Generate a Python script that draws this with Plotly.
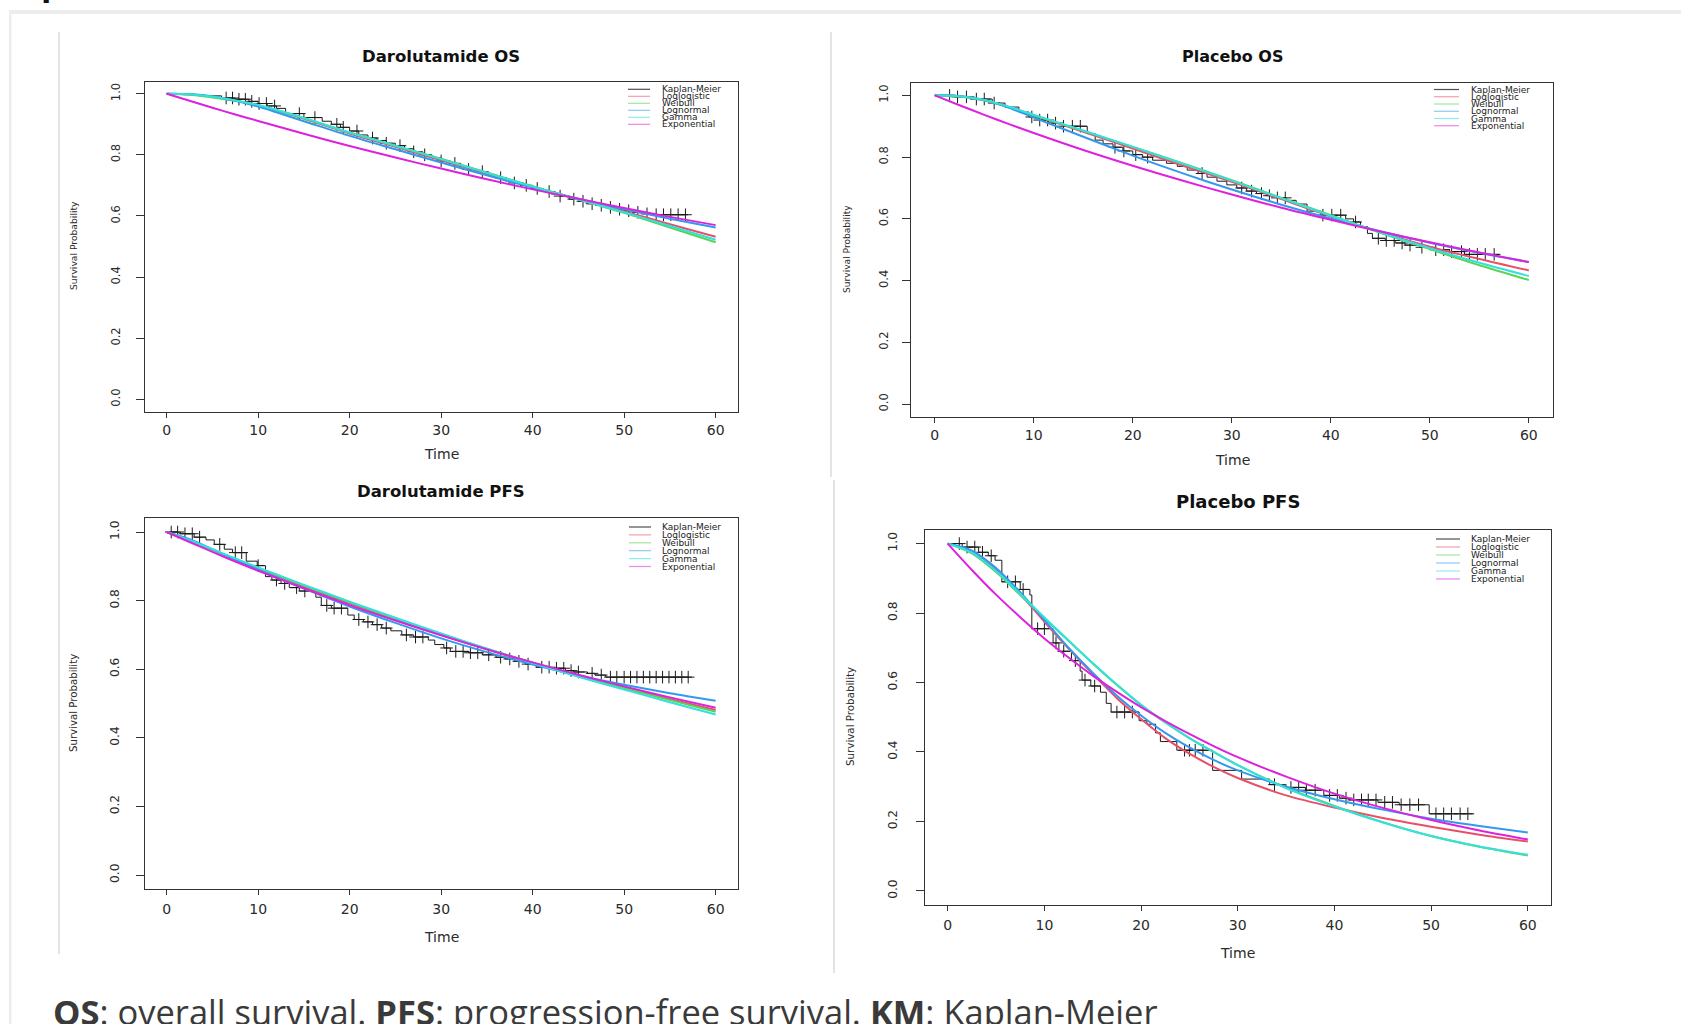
import numpy as np
import plotly.graph_objects as go

W, H = 1681, 1024

# ---------------- data ----------------
TITLES = ["Darolutamide OS", "Placebo OS", "Darolutamide PFS", "Placebo PFS"]
MODELS = ["Kaplan-Meier", "Loglogistic", "Weibull", "Lognormal", "Gamma", "Exponential"]
X_TICKS = [0, 10, 20, 30, 40, 50, 60]
Y_TICKS = [0.0, 0.2, 0.4, 0.6, 0.8, 1.0]
Y_TICKTEXT = ["0.0", "0.2", "0.4", "0.6", "0.8", "1.0"]

T_FIT = [0, 2.5, 5, 7.5, 10, 15, 20, 25, 30, 35, 40, 45, 50, 55, 60]
T_FIT_P4 = [0, 2.5, 5, 7.5, 10, 12.5, 15, 17.5, 20, 22.5, 25, 27.5, 30, 35, 40, 45, 50, 55, 60]

# Darolutamide OS
loglog_p1 = [1.0, 0.998, 0.990, 0.977, 0.962, 0.918, 0.870, 0.826, 0.782, 0.738, 0.695, 0.655, 0.615, 0.573, 0.532]
weib_p1 = [1.0, 0.997, 0.988, 0.977, 0.962, 0.920, 0.873, 0.830, 0.787, 0.742, 0.697, 0.654, 0.610, 0.562, 0.514]
lognorm_p1 = [1.0, 0.999, 0.992, 0.977, 0.958, 0.910, 0.862, 0.818, 0.775, 0.733, 0.693, 0.656, 0.622, 0.591, 0.562]
gamma_p1 = [1.0, 0.998, 0.990, 0.978, 0.963, 0.921, 0.873, 0.830, 0.786, 0.741, 0.696, 0.654, 0.612, 0.567, 0.522]
expo_p1 = [1.0, 0.977, 0.954, 0.932, 0.911, 0.869, 0.829, 0.791, 0.755, 0.720, 0.687, 0.656, 0.626, 0.597, 0.570]
km_t_p1 = [0, 2, 4, 6, 7.5, 9, 10, 11, 12, 13, 15, 17, 18, 19, 20, 21, 22, 23, 24, 25, 26, 27, 28, 29, 30,
           31, 32, 33, 34, 35, 36, 37, 38, 39, 40, 41, 42, 43, 44, 45, 46, 47, 48, 49, 50, 51, 52, 53, 57]
km_s_p1 = [1.0, 0.997, 0.993, 0.986, 0.982, 0.975, 0.968, 0.960, 0.952, 0.935, 0.922, 0.910, 0.900, 0.890, 0.878,
           0.865, 0.855, 0.847, 0.838, 0.830, 0.820, 0.810, 0.800, 0.790, 0.780, 0.772, 0.762, 0.752, 0.745, 0.735,
           0.725, 0.715, 0.708, 0.700, 0.690, 0.680, 0.672, 0.665, 0.655, 0.648, 0.640, 0.635, 0.628, 0.622, 0.617,
           0.612, 0.607, 0.604, 0.604]
cens_p1 = [6.5, 7.2, 7.9, 8.6, 9.3, 10.1, 10.9, 11.8, 14.5, 16.2, 18.6, 19.3, 20.8, 22.5, 24, 25.5, 27, 28.2, 30,
           31.5, 33, 34.5, 36.5, 38, 39.3, 40.5, 41.8, 43, 44.5, 45.5, 46.5, 47.5, 48.5, 49.5, 50.5, 51.5, 52.5,
           53.5, 54.3, 55.1, 55.9, 56.7]

# Placebo OS
loglog_p2 = [1.0, 0.997, 0.984, 0.962, 0.935, 0.882, 0.828, 0.773, 0.720, 0.664, 0.608, 0.557, 0.510, 0.470, 0.433]
weib_p2 = [1.0, 0.996, 0.983, 0.962, 0.935, 0.885, 0.833, 0.780, 0.725, 0.668, 0.612, 0.555, 0.502, 0.450, 0.402]
lognorm_p2 = [1.0, 0.998, 0.985, 0.960, 0.928, 0.866, 0.805, 0.748, 0.695, 0.646, 0.601, 0.560, 0.523, 0.490, 0.460]
gamma_p2 = [1.0, 0.997, 0.985, 0.963, 0.937, 0.886, 0.833, 0.779, 0.724, 0.667, 0.610, 0.556, 0.505, 0.458, 0.415]
expo_p2 = [1.0, 0.968, 0.937, 0.907, 0.878, 0.823, 0.772, 0.724, 0.679, 0.636, 0.597, 0.559, 0.524, 0.491, 0.460]
km_t_p2 = [0, 2, 4, 5.8, 7.1, 8.5, 9.5, 10.5, 11.5, 13, 15.4, 16.2, 17, 18, 19, 20, 21, 22, 23.4, 24.5, 25.5, 26.6,
           27.5, 28.5, 29.5, 30.5, 31.5, 32.5, 33.5, 34.5, 35.5, 36.5, 37.6, 39, 41.5, 42.3, 43, 43.7, 44.2, 45.5,
           46.5, 47.5, 49, 50.5, 52, 53.5, 57]
km_s_p2 = [1.0, 0.995, 0.988, 0.975, 0.962, 0.946, 0.930, 0.920, 0.910, 0.900, 0.876, 0.855, 0.843, 0.832, 0.820,
           0.808, 0.800, 0.790, 0.780, 0.770, 0.758, 0.747, 0.735, 0.722, 0.710, 0.700, 0.690, 0.682, 0.675, 0.668,
           0.660, 0.648, 0.625, 0.612, 0.600, 0.590, 0.575, 0.553, 0.537, 0.530, 0.522, 0.515, 0.508, 0.500, 0.494,
           0.485, 0.485]
cens_p2 = [1.5, 2.3, 3.2, 4.2, 5, 6, 9.8, 10.6, 11.4, 12.2, 13, 13.9, 14.7, 18.2, 19.1, 20.3, 21.5, 27, 31, 32, 33,
           33.8, 34.6, 35.4, 39.2, 40.1, 41, 42.5, 44.8, 45.6, 46.4, 47.2, 48, 49.2, 50.6, 51.4, 52.2, 53.2, 54,
           54.8, 55.6, 56.5]

# Darolutamide PFS
loglog_p3 = [1.0, 0.976, 0.949, 0.921, 0.894, 0.841, 0.792, 0.745, 0.700, 0.658, 0.618, 0.580, 0.546, 0.513, 0.481]
weib_p3 = [1.0, 0.975, 0.948, 0.921, 0.895, 0.844, 0.795, 0.748, 0.703, 0.660, 0.619, 0.581, 0.545, 0.510, 0.476]
lognorm_p3 = [1.0, 0.979, 0.950, 0.920, 0.890, 0.835, 0.783, 0.735, 0.690, 0.650, 0.614, 0.582, 0.555, 0.530, 0.508]
gamma_p3 = [1.0, 0.976, 0.950, 0.923, 0.897, 0.846, 0.797, 0.750, 0.704, 0.660, 0.618, 0.578, 0.541, 0.504, 0.468]
expo_p3 = [1.0, 0.971, 0.942, 0.914, 0.887, 0.836, 0.787, 0.742, 0.699, 0.658, 0.620, 0.584, 0.550, 0.518, 0.488]
km_t_p3 = [0, 1.5, 3, 4.3, 5.2, 6.3, 7.2, 8.7, 9.9, 10.8, 11.5, 12.5, 13.4, 14.5, 16.3, 16.9, 18, 19.8, 20.5, 21.5,
           22.5, 23.5, 24.5, 25.7, 27, 28.6, 29.3, 30.3, 31, 33, 34.5, 36, 37, 38, 39.2, 40.4, 42, 43.6, 44.5, 46,
           46.8, 48, 57.4]
km_s_p3 = [1.0, 0.995, 0.985, 0.977, 0.964, 0.950, 0.940, 0.915, 0.902, 0.870, 0.860, 0.850, 0.838, 0.828, 0.810,
           0.786, 0.778, 0.758, 0.745, 0.738, 0.730, 0.720, 0.712, 0.700, 0.694, 0.685, 0.672, 0.662, 0.652, 0.648,
           0.642, 0.635, 0.630, 0.623, 0.615, 0.606, 0.603, 0.596, 0.592, 0.588, 0.583, 0.577, 0.577]
cens_p3 = [0.5, 1.2, 2, 2.8, 3.6, 5.8, 7.5, 8.2, 10, 12, 12.9, 14.2, 15.1, 17.5, 18.3, 19.1, 21, 22, 23, 24, 26.2,
           27.2, 28, 30.6, 31.6, 32.4, 33.2, 34, 35.2, 36.5, 37.5, 38.5, 39.5, 41, 41.8, 42.6, 43.4, 44.2, 45,
           46.5, 47.5, 48.5, 49.2, 50, 50.7, 51.4, 52.1, 52.8, 53.5, 54.2, 54.9, 55.6, 56.3, 57]

# Placebo PFS
loglog_p4 = [1.0, 0.975, 0.925, 0.855, 0.775, 0.698, 0.625, 0.555, 0.495, 0.440, 0.395, 0.357, 0.325, 0.275,
             0.240, 0.210, 0.185, 0.162, 0.142]
weib_p4 = [1.0, 0.972, 0.918, 0.852, 0.785, 0.720, 0.655, 0.593, 0.535, 0.485, 0.440, 0.400, 0.362, 0.297,
           0.245, 0.198, 0.158, 0.127, 0.102]
lognorm_p4 = [1.0, 0.980, 0.930, 0.860, 0.780, 0.700, 0.628, 0.562, 0.505, 0.455, 0.413, 0.377, 0.347, 0.300,
              0.264, 0.234, 0.208, 0.187, 0.168]
gamma_p4 = [1.0, 0.974, 0.921, 0.855, 0.787, 0.721, 0.656, 0.594, 0.536, 0.486, 0.440, 0.400, 0.362, 0.296,
            0.243, 0.197, 0.158, 0.128, 0.104]
expo_p4 = [1.0, 0.924, 0.853, 0.788, 0.727, 0.672, 0.620, 0.573, 0.529, 0.489, 0.452, 0.417, 0.385, 0.329,
           0.280, 0.239, 0.204, 0.174, 0.148]
km_t_p4 = [0, 1.5, 3.2, 4.2, 4.9, 5.6, 7.5, 8.5, 8.7, 10.9, 11.5, 12.8, 13.7, 13.9, 14.8, 15.8, 16.4, 16.9, 19.8,
           20.6, 21.5, 22, 23.7, 27.4, 30.4, 33.3, 35, 37, 38.9, 40.5, 41.5, 44.5, 46.7, 49.8, 54.3]
km_s_p4 = [1.0, 0.990, 0.975, 0.965, 0.952, 0.890, 0.868, 0.852, 0.755, 0.714, 0.690, 0.663, 0.633, 0.607, 0.590,
           0.572, 0.540, 0.515, 0.490, 0.480, 0.455, 0.430, 0.405, 0.347, 0.322, 0.306, 0.298, 0.290, 0.275, 0.267,
           0.262, 0.255, 0.248, 0.222, 0.222]
cens_p4 = [1.2, 2, 2.8, 3.6, 4.5, 6.2, 7, 7.8, 9.3, 10, 11.2, 12, 13.2, 14.2, 15.2, 17.5, 18.3, 19.1, 24.5, 25,
           25.6, 26.4, 33.8, 35.5, 36.3, 37.1, 38, 39.5, 40.3, 41.2, 42, 42.8, 43.5, 44.3, 45.2, 46, 46.9, 47.8,
           48.7, 50.5, 51.3, 52.1, 53, 53.8]

CAPTION = "<b>OS</b>: overall survival. <b>PFS</b>: progression-free survival. <b>KM</b>: Kaplan-Meier"

# ---------------- styling / layout geometry ----------------
COLORS = {"Kaplan-Meier": "#222222", "Loglogistic": "#E8506A", "Weibull": "#55D455",
          "Lognormal": "#3399EE", "Gamma": "#33E0DD", "Exponential": "#DD22DD"}

panels = [
    dict(title=TITLES[0], box=(144.7, 81.5, 737.6, 411.5), grid=T_FIT,
         fits=[loglog_p1, weib_p1, lognorm_p1, gamma_p1, expo_p1], km=(km_t_p1, km_s_p1), cens=cens_p1,
         tpos=(441, 56.8), tsize=16.5, timepos=(441, 453.5), ylpos=(73, 246), ylsize=9.2, ytsize=11.5,
         leg=(628, 650, 660, 89.3, 7.0), lsize=9, xts=1, yts=11),
    dict(title=TITLES[1], box=(911, 83, 1552.6, 416.5), grid=T_FIT,
         fits=[loglog_p2, weib_p2, lognorm_p2, gamma_p2, expo_p2], km=(km_t_p2, km_s_p2), cens=cens_p2,
         tpos=(1232, 56.8), tsize=16, timepos=(1232, 460), ylpos=(847, 249), ylsize=9.1, ytsize=11.5,
         leg=(1434, 1459, 1469, 89.5, 7.25), lsize=9, xts=1, yts=9),
    dict(title=TITLES[2], box=(144.7, 518.3, 737.6, 888.8), grid=T_FIT,
         fits=[loglog_p3, weib_p3, lognorm_p3, gamma_p3, expo_p3], km=(km_t_p3, km_s_p3), cens=cens_p3,
         tpos=(441, 491), tsize=16.5, timepos=(441, 937), ylpos=(73, 703), ylsize=10.2, ytsize=12.2,
         leg=(629, 651, 660, 527, 7.9), lsize=9, xts=2, yts=12),
    dict(title=TITLES[3], box=(924.5, 529.7, 1551, 904.8), grid=T_FIT_P4,
         fits=[loglog_p4, weib_p4, lognorm_p4, gamma_p4, expo_p4], km=(km_t_p4, km_s_p4), cens=cens_p4,
         tpos=(1237.7, 501.7), tsize=18, timepos=(1237.7, 953), ylpos=(850, 717), ylsize=10.3, ytsize=12.2,
         leg=(1436, 1460, 1469, 539, 8.0), lsize=9, xts=2, yts=14),
]


def pxx(x):
    return x / W


def pyy(y):
    return 1 - y / H


fig = go.Figure()
annotations = []
shapes = []

for i, p in enumerate(panels, start=1):
    sfx = "" if i == 1 else str(i)
    xa, ya = "x" + sfx, "y" + sfx
    kt, ks = p["km"]
    fig.add_trace(go.Scatter(x=kt, y=ks, mode="lines", name="Kaplan-Meier", showlegend=False,
                             line=dict(color="#1a1a1a", width=1, shape="hv"), xaxis=xa, yaxis=ya))
    kt_arr, ks_arr = np.array(kt), np.array(ks)
    idx = np.searchsorted(kt_arr, np.array(p["cens"]), side="right") - 1
    fig.add_trace(go.Scatter(x=p["cens"], y=ks_arr[idx], mode="markers", showlegend=False,
                             marker=dict(symbol="cross-thin", size=9, line=dict(width=1, color="#1a1a1a")),
                             xaxis=xa, yaxis=ya, hoverinfo="skip"))
    for name, vals in zip(MODELS[1:], p["fits"]):
        fig.add_trace(go.Scatter(x=p["grid"], y=vals, mode="lines", name=name, showlegend=False,
                                 line=dict(color=COLORS[name], width=2, shape="spline", smoothing=0.8),
                                 xaxis=xa, yaxis=ya))

    x0, y0, x1, y1 = p["box"]
    fig.layout["xaxis" + sfx] = dict(
        domain=[pxx(x0), pxx(x1)], range=[-2.4, 62.4], anchor=ya, tickvals=X_TICKS,
        ticks="outside", ticklen=5, tickwidth=1, tickcolor="#333", showline=True, linecolor="#333",
        linewidth=1, mirror=True, showgrid=False, zeroline=False, ticklabelstandoff=p["xts"],
        tickfont=dict(family="DejaVu Sans", size=14, color="#2a2a2a"))
    fig.layout["yaxis" + sfx] = dict(
        domain=[pyy(y1), pyy(y0)], range=[-0.04, 1.04], anchor=xa, tickvals=Y_TICKS, ticktext=Y_TICKTEXT,
        tickangle=-90, ticks="outside", ticklen=8, tickwidth=1, tickcolor="#333", showline=True,
        linecolor="#333", linewidth=1, mirror=True, showgrid=False, zeroline=False,
        ticklabelstandoff=p["yts"], tickfont=dict(family="DejaVu Sans", size=p["ytsize"], color="#2a2a2a"))

    # titles
    annotations.append(dict(text="<b>%s</b>" % p["title"], x=pxx(p["tpos"][0]), y=pyy(p["tpos"][1]),
                            xref="paper", yref="paper", showarrow=False, xanchor="center", yanchor="middle",
                            font=dict(family="DejaVu Sans", size=p["tsize"], color="#111")))
    annotations.append(dict(text="Time", x=pxx(p["timepos"][0]), y=pyy(p["timepos"][1]),
                            xref="paper", yref="paper", showarrow=False, xanchor="center", yanchor="middle",
                            font=dict(family="DejaVu Sans", size=14, color="#2a2a2a")))
    annotations.append(dict(text="Survival Probability", x=pxx(p["ylpos"][0]), y=pyy(p["ylpos"][1]),
                            xref="paper", yref="paper", showarrow=False, xanchor="center", yanchor="middle",
                            textangle=-90, font=dict(family="DejaVu Sans", size=p["ylsize"], color="#2a2a2a")))
    # legend
    lx0, lx1, tx, ry0, dy = p["leg"]
    for k, name in enumerate(MODELS):
        yy = ry0 + k * dy
        shapes.append(dict(type="line", xref="paper", yref="paper", x0=pxx(lx0), x1=pxx(lx1),
                           y0=pyy(yy), y1=pyy(yy),
                           line=dict(color=COLORS[name], width=1.2),
                           opacity=0.8 if name == "Kaplan-Meier" else 0.55))
        annotations.append(dict(text=name, x=pxx(tx), y=pyy(yy), xref="paper", yref="paper",
                                showarrow=False, xanchor="left", yanchor="middle",
                                font=dict(family="DejaVu Sans", size=p["lsize"], color="#222")))

# page decorations
shapes.append(dict(type="rect", xref="paper", yref="paper", x0=pxx(9), x1=1, y0=pyy(10), y1=pyy(14),
                   fillcolor="#ededed", line=dict(width=0), layer="below"))
shapes.append(dict(type="rect", xref="paper", yref="paper", x0=pxx(9), x1=pxx(11.5), y0=0, y1=pyy(10),
                   fillcolor="#ededed", line=dict(width=0), layer="below"))
for (xx, ya0, ya1) in [(59, 32, 954), (831, 32, 477), (834, 480, 973)]:
    shapes.append(dict(type="line", xref="paper", yref="paper", x0=pxx(xx), x1=pxx(xx),
                       y0=pyy(ya0), y1=pyy(ya1), line=dict(color="#c8c8c8", width=1)))

annotations.append(dict(text=CAPTION, x=pxx(51), y=pyy(1011), xref="paper", yref="paper", showarrow=False,
                        xanchor="left", yanchor="middle",
                        font=dict(family="Open Sans", size=34.5, color="#3a3a3a")))
annotations.append(dict(text="<b>p</b>", x=pxx(39), y=pyy(-18), xref="paper", yref="paper", showarrow=False,
                        xanchor="left", yanchor="middle",
                        font=dict(family="Open Sans", size=34, color="#111")))

fig.update_layout(width=W, height=H, margin=dict(l=0, r=0, t=0, b=0), paper_bgcolor="white",
                  plot_bgcolor="white", showlegend=False, annotations=annotations, shapes=shapes)

fig.write_html("out.html", config={"displayModeBar": False},
               post_script="document.body.style.margin='0px';document.body.style.overflow='hidden';")
